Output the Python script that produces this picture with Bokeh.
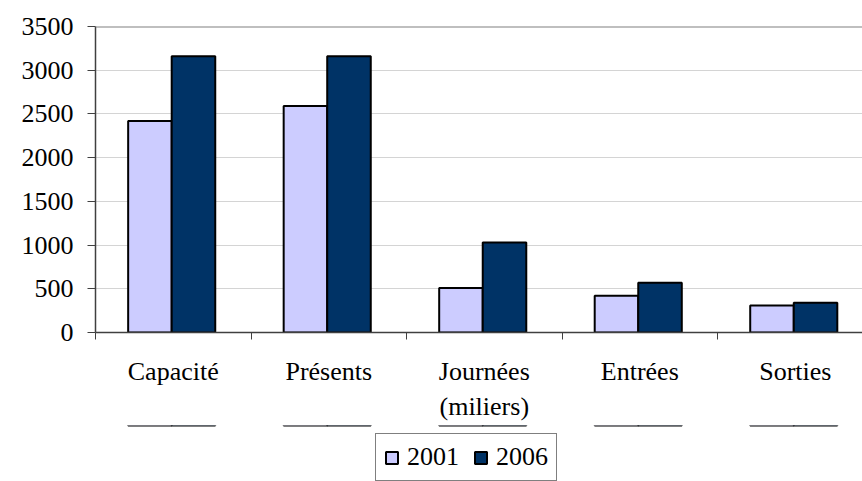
import numpy as np
from bokeh.plotting import figure
from bokeh.layouts import column
from bokeh.models import Range1d, FixedTicker, Legend, LegendItem, Span, ColumnDataSource
from bokeh.embed import file_html
from bokeh.resources import INLINE

categories = ["Capacité", "Présents", "Journées\n(miliers)", "Entrées", "Sorties"]
series_names = ["2001", "2006"]
values_2001 = [2420, 2590, 510, 420, 310]
values_2006 = [3160, 3160, 1030, 570, 340]
y_ticks = [0, 500, 1000, 1500, 2000, 2500, 3000, 3500]

color_2001 = "#CCCCFF"
color_2006 = "#003366"
FONT = "Liberation Serif"
FS = "26px"

n = len(categories)
idx = np.arange(n)
bar_w = 0.28
src = ColumnDataSource(dict(
    x1=idx + 0.49 - bar_w / 2,
    x2=idx + 0.49 + bar_w / 2,
    v1=values_2001,
    v2=values_2006,
))

p = figure(width=862, height=425, output_backend="svg", toolbar_location=None,
           x_range=Range1d(0, n - 0.068), y_range=Range1d(y_ticks[0], y_ticks[-1]),
           min_border_left=95, min_border_right=0, min_border_top=26, min_border_bottom=93)
p.outline_line_color = None
p.background_fill_color = "white"
p.border_fill_color = "white"

r1 = p.vbar(x="x1", top="v1", width=bar_w, source=src, fill_color=color_2001,
            line_color="black", line_width=2)
r2 = p.vbar(x="x2", top="v2", width=bar_w, source=src, fill_color=color_2006,
            line_color="black", line_width=2)

# x axis: labels at category centers, tick marks at category boundaries
xax = p.xaxis[0]
xax.ticker = FixedTicker(ticks=list(idx + 0.5), minor_ticks=list(np.arange(n + 1)))
xax.major_label_overrides = {float(i + 0.5): c for i, c in enumerate(categories)}
xax.major_tick_out = 0
xax.major_tick_in = 0
xax.minor_tick_out = 7
xax.minor_tick_in = 0
xax.minor_tick_line_color = "#404040"
xax.axis_line_color = "#404040"
xax.axis_line_width = 1.5
xax.major_label_text_font = FONT
xax.major_label_text_font_size = FS
xax.major_label_text_color = "black"
xax.major_label_standoff = 17
xax.major_label_text_line_height = 1.23
p.xgrid.grid_line_color = None

yax = p.yaxis[0]
yax.ticker = FixedTicker(ticks=y_ticks)
yax.major_tick_out = 8
yax.major_tick_in = 0
yax.minor_tick_line_color = None
yax.axis_line_color = "#404040"
yax.axis_line_width = 1.5
yax.major_tick_line_color = "#404040"
yax.major_label_text_font = FONT
yax.major_label_text_font_size = FS
yax.major_label_text_color = "black"
yax.major_label_standoff = 14
p.ygrid.grid_line_color = "#D4D4D4"
p.ygrid.grid_line_width = 1

p.add_layout(Span(location=y_ticks[-1], dimension="width", line_color="#808080", line_width=2))

# legend strip below the chart (its bars lie outside its own y range, so only the legend shows)
p2 = figure(width=862, height=56, output_backend="svg", toolbar_location=None,
            x_range=p.x_range, y_range=Range1d(-2, -1),
            x_axis_location=None, y_axis_location=None,
            min_border_left=0, min_border_right=0, min_border_top=0, min_border_bottom=0)
p2.outline_line_color = None
p2.xgrid.visible = False
p2.ygrid.visible = False
l1 = p2.vbar(x="x1", top="v1", width=bar_w, source=src, fill_color=color_2001,
             line_color="black", line_width=2)
l2 = p2.vbar(x="x2", top="v2", width=bar_w, source=src, fill_color=color_2006,
             line_color="black", line_width=2)

legend = Legend(items=[LegendItem(label=series_names[0], renderers=[l1]),
                       LegendItem(label=series_names[1], renderers=[l2])],
                orientation="horizontal", location=(280, 0))
legend.label_text_font = FONT
legend.label_text_font_size = FS
legend.label_text_color = "black"
legend.glyph_width = 15
legend.glyph_height = 15
legend.label_standoff = 8
legend.spacing = 14
legend.padding = 8
legend.margin = 0
legend.border_line_color = "black"
legend.border_line_width = 1
legend.background_fill_color = "white"
legend.background_fill_alpha = 1
p2.add_layout(legend, "center")

layout = column(p, p2, spacing=0)
open("out.html", "w").write(file_html(layout, INLINE))
